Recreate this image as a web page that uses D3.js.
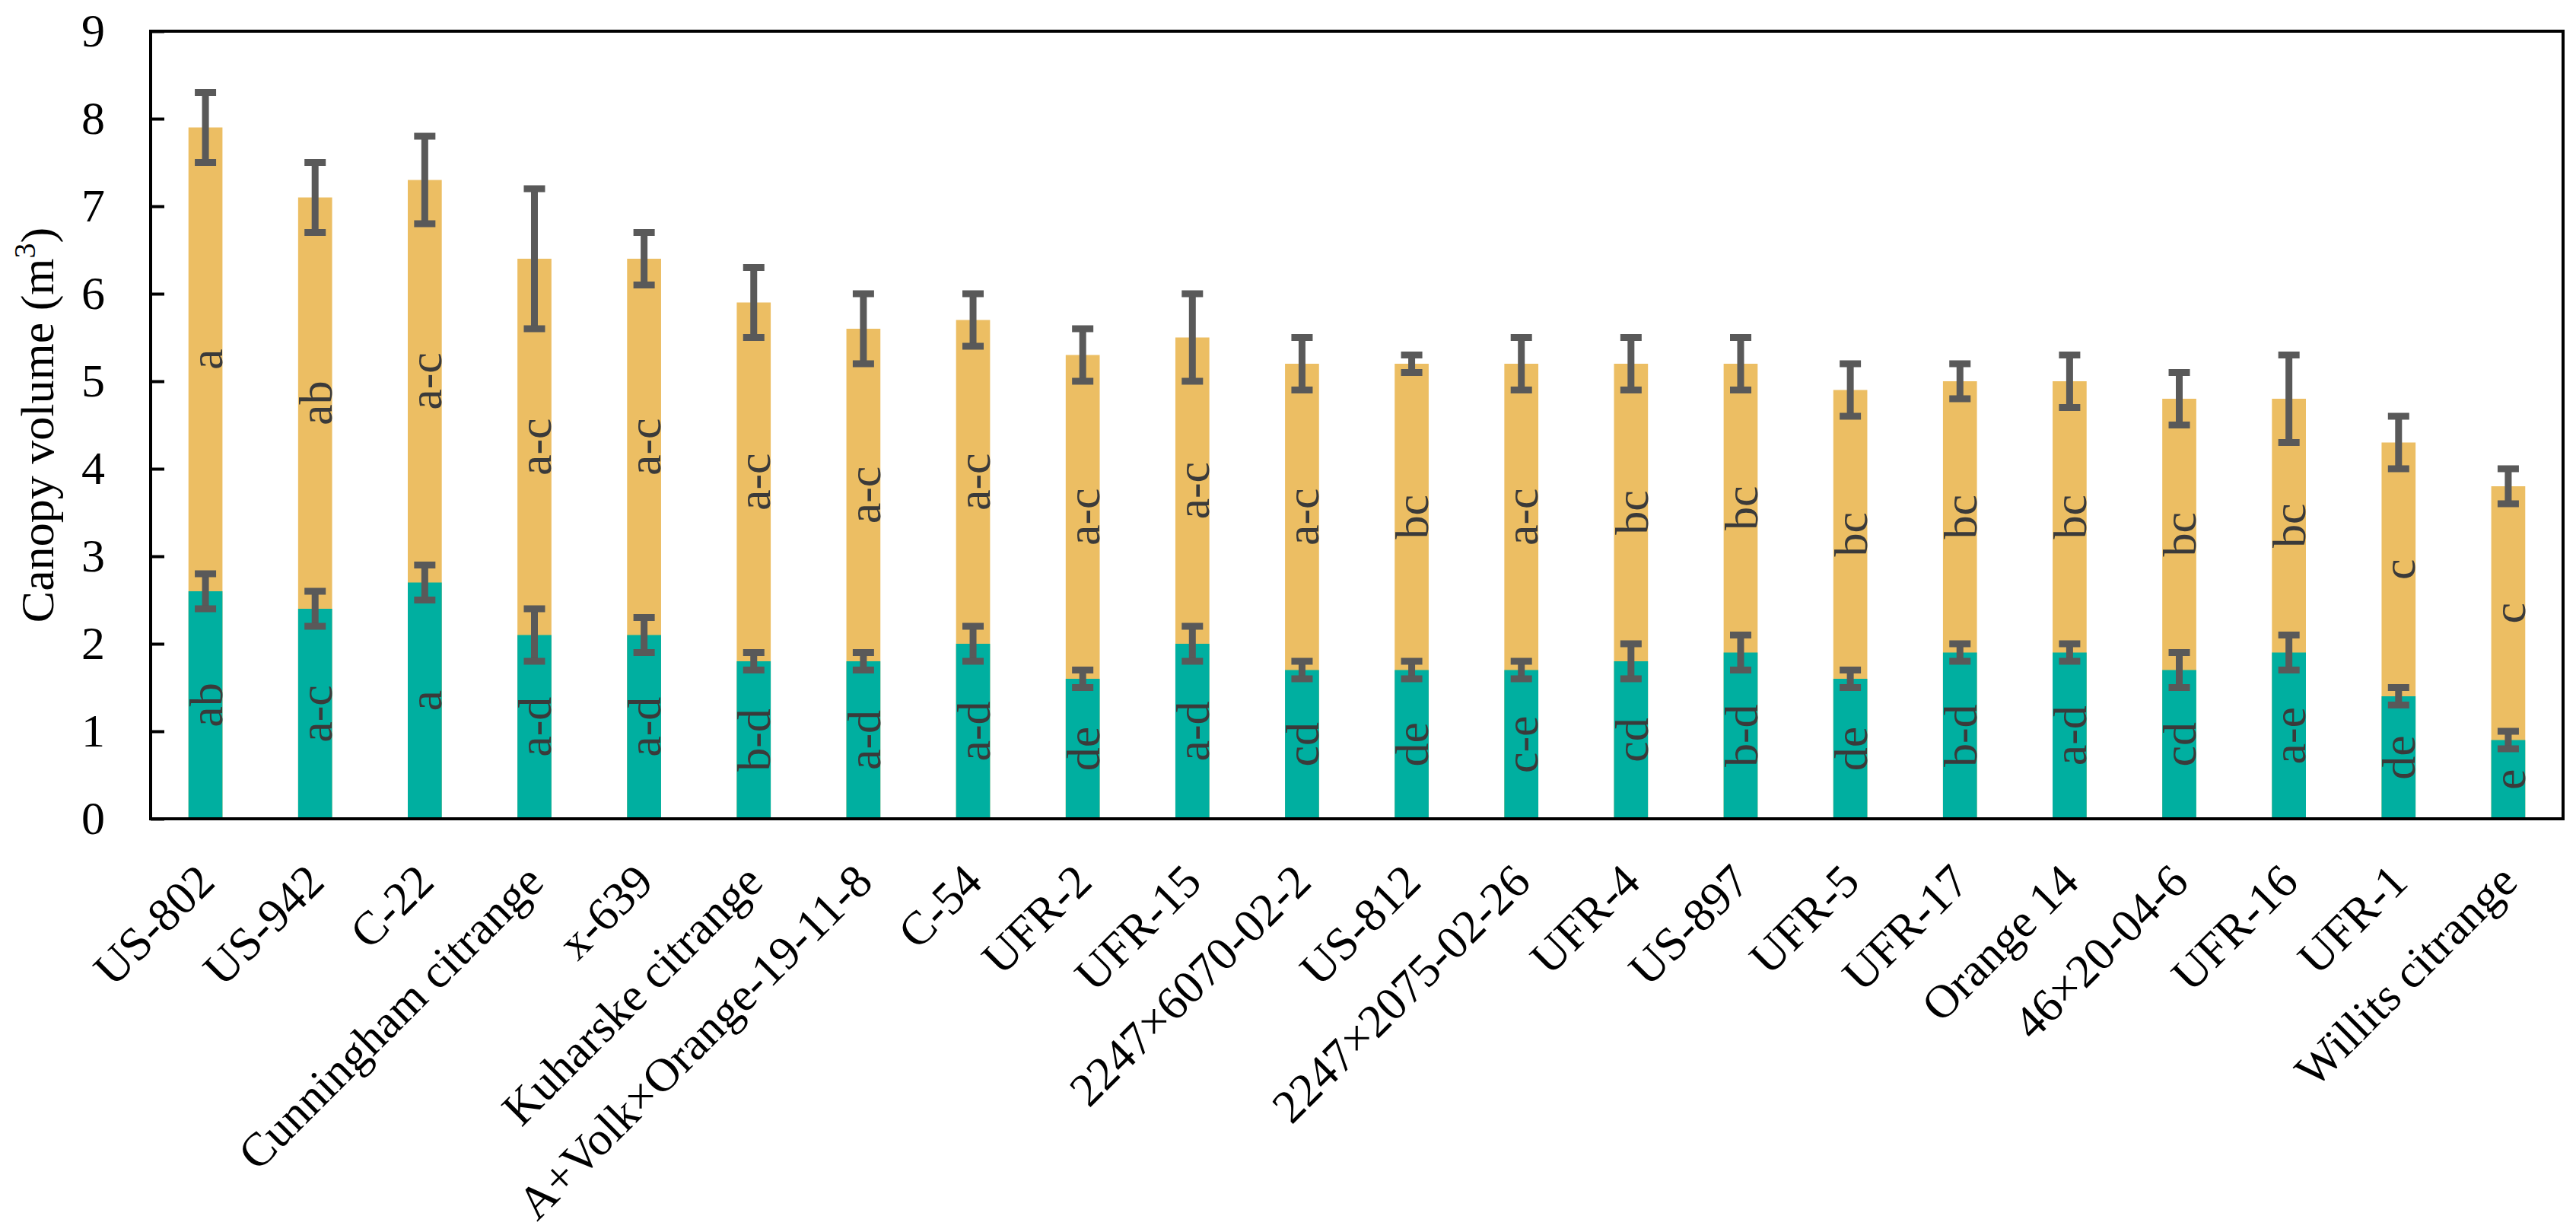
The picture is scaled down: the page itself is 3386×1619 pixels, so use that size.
<!DOCTYPE html>
<html>
<head>
<meta charset="utf-8">
<script src="https://cdn.jsdelivr.net/npm/d3@7"></script>
<style>
  body { margin: 0; background: #fff; }
  text { font-family: "Palatino Linotype", "Book Antiqua", Palatino, "Liberation Serif", serif; }
</style>
</head>
<body>
<svg id="chart"></svg>
<script>
var categories = ['US-802', 'US-942', 'C-22', 'Cunningham citrange', 'x-639', 'Kuharske citrange',
    'A+Volk×Orange-19-11-8', 'C-54', 'UFR-2', 'UFR-15', '2247×6070-02-2', 'US-812',
    '2247×2075-02-26', 'UFR-4', 'US-897', 'UFR-5', 'UFR-17', 'Orange 14', '46×20-04-6',
    'UFR-16', 'UFR-1', 'Willits citrange']

// later measurement (orange) and earlier measurement (teal)
var lateMean = [7.9, 7.1, 7.3, 6.4, 6.4, 5.9, 5.6, 5.7, 5.3, 5.5, 5.2, 5.2, 5.2, 5.2, 5.2, 4.9, 5.0, 5.0, 4.8, 4.8, 4.3, 3.8]
var lateErr = [0.4, 0.4, 0.5, 0.8, 0.3, 0.4, 0.4, 0.3, 0.3, 0.5, 0.3, 0.1, 0.3, 0.3, 0.3, 0.3, 0.2, 0.3, 0.3, 0.5, 0.3, 0.2]
var lateLetters = ['a', 'ab', 'a-c', 'a-c', 'a-c', 'a-c', 'a-c', 'a-c', 'a-c', 'a-c', 'a-c', 'bc',
    'a-c', 'bc', 'bc', 'bc', 'bc', 'bc', 'bc', 'bc', 'c', 'c']

var earlyMean = [2.6, 2.4, 2.7, 2.1, 2.1, 1.8, 1.8, 2.0, 1.6, 2.0, 1.7, 1.7, 1.7, 1.8, 1.9, 1.6, 1.9, 1.9, 1.7, 1.9, 1.4, 0.9]
var earlyErr = [0.2, 0.2, 0.2, 0.3, 0.2, 0.1, 0.1, 0.2, 0.1, 0.2, 0.1, 0.1, 0.1, 0.2, 0.2, 0.1, 0.1, 0.1, 0.2, 0.2, 0.1, 0.1]
var earlyLetters = ['ab', 'a-c', 'a', 'a-d', 'a-d', 'b-d', 'a-d', 'a-d', 'de', 'a-d', 'cd', 'de',
    'c-e', 'cd', 'b-d', 'de', 'b-d', 'a-d', 'cd', 'a-e', 'de', 'e']

var yTicks = [0, 1, 2, 3, 4, 5, 6, 7, 8, 9]

var width = 3386
var height = 1619
var plot = { left: 198, right: 3369, top: 41, bottom: 1076 }

var svg = d3.select('#chart')
    .attr('width', width)
    .attr('height', height)

var x = d3.scaleBand()
    .domain(categories)
    .range([plot.left, plot.right])
    .paddingInner(0.69)
    .paddingOuter(0.345)

var y = d3.scaleLinear()
    .domain([0, 9])
    .range([plot.bottom, plot.top])

var rows = categories.map(function(c, i) {
    return {
        cat: c,
        late: lateMean[i], lateErr: lateErr[i], lateLab: lateLetters[i],
        early: earlyMean[i], earlyErr: earlyErr[i], earlyLab: earlyLetters[i]
    }
})

var bw = x.bandwidth()
var cx = function(d) { return x(d.cat) + bw / 2 }

// bars: orange full height, teal over it from zero
svg.append('g').selectAll('rect')
    .data(rows).enter().append('rect')
    .attr('x', function(d) { return x(d.cat) })
    .attr('width', bw)
    .attr('y', function(d) { return y(d.late) })
    .attr('height', function(d) { return y(0) - y(d.late) })
    .attr('fill', '#ECBE63')

svg.append('g').selectAll('rect')
    .data(rows).enter().append('rect')
    .attr('x', function(d) { return x(d.cat) })
    .attr('width', bw)
    .attr('y', function(d) { return y(d.early) })
    .attr('height', function(d) { return y(0) - y(d.early) })
    .attr('fill', '#00AFA0')

// letters inside bars
var letterStyle = function(sel) {
    sel.attr('text-anchor', 'middle')
        .attr('dy', '0.35em')
        .attr('font-size', 62)
        .attr('fill', '#3a3a3a')
}
svg.append('g').selectAll('text')
    .data(rows).enter().append('text')
    .attr('transform', function(d) { return 'translate(' + cx(d) + ',' + y((d.late + d.early) / 2) + ') rotate(-90)' })
    .text(function(d) { return d.lateLab })
    .call(letterStyle)

svg.append('g').selectAll('text')
    .data(rows).enter().append('text')
    .attr('transform', function(d) { return 'translate(' + cx(d) + ',' + y(d.early / 2) + ') rotate(-90)' })
    .text(function(d) { return d.earlyLab })
    .call(letterStyle)

// error bars
function errorBars(mean, err) {
    var g = svg.append('g').attr('stroke', '#595959').attr('stroke-width', 9)
    var eb = g.selectAll('g').data(rows).enter().append('g')
    eb.append('line')
        .attr('x1', cx).attr('x2', cx)
        .attr('y1', function(d) { return y(d[mean] - d[err]) })
        .attr('y2', function(d) { return y(d[mean] + d[err]) })
    eb.append('line')
        .attr('x1', function(d) { return cx(d) - 14 }).attr('x2', function(d) { return cx(d) + 14 })
        .attr('y1', function(d) { return y(d[mean] + d[err]) })
        .attr('y2', function(d) { return y(d[mean] + d[err]) })
    eb.append('line')
        .attr('x1', function(d) { return cx(d) - 14 }).attr('x2', function(d) { return cx(d) + 14 })
        .attr('y1', function(d) { return y(d[mean] - d[err]) })
        .attr('y2', function(d) { return y(d[mean] - d[err]) })
}
errorBars('late', 'lateErr')
errorBars('early', 'earlyErr')

// frame
svg.append('rect')
    .attr('x', plot.left).attr('y', plot.top)
    .attr('width', plot.right - plot.left).attr('height', plot.bottom - plot.top)
    .attr('fill', 'none')
    .attr('stroke', '#000')
    .attr('stroke-width', 4)

// y axis
var yAxis = svg.append('g')
    .attr('transform', 'translate(' + plot.left + ',0)')
    .call(d3.axisLeft(y).tickValues(yTicks).tickFormat(d3.format('d'))
        .tickSizeInner(-18).tickSizeOuter(0).tickPadding(60))
yAxis.select('.domain').remove()
yAxis.selectAll('line').attr('stroke', '#000').attr('stroke-width', 4)
yAxis.selectAll('text')
    .attr('font-size', 62)
    .attr('fill', '#000')
    .style('font-family', '"Palatino Linotype", "Book Antiqua", Palatino, "Liberation Serif", serif')

// category labels
svg.append('g').selectAll('text')
    .data(categories).enter().append('text')
    .attr('transform', function(d) { return 'translate(' + (x(d) + bw / 2 + 15) + ',' + 1162 + ') rotate(-45)' })
    .attr('text-anchor', 'end')
    .attr('font-size', 62)
    .attr('fill', '#000')
    .text(function(d) { return d })

// y title
var title = svg.append('text')
    .attr('transform', 'translate(70,' + ((plot.top + plot.bottom) / 2) + ') rotate(-90)')
    .attr('text-anchor', 'middle')
    .attr('font-size', 62)
    .attr('fill', '#000')
title.append('tspan').text('Canopy volume (m')
title.append('tspan').text('3').attr('font-size', 40).attr('dy', -24)
title.append('tspan').text(')').attr('dy', 24)
</script>
</body>
</html>
